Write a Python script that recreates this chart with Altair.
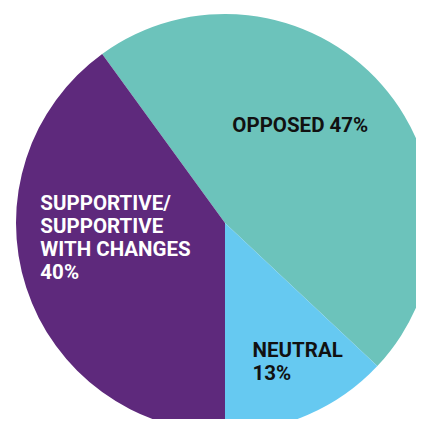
import math
import altair as alt
import pandas as pd

categories = ["Opposed", "Neutral", "Supportive/supportive with changes"]
shares = [47, 13, 40]
labels = ["OPPOSED 47%", "NEUTRAL\n13%", "SUPPORTIVE/\nSUPPORTIVE\nWITH CHANGES\n40%"]
colors = ["#6cc3bb", "#66c9f1", "#5e297c"]
order = [1, 2, 3]

df = pd.DataFrame({"category": categories, "share": shares, "label": labels, "order": order})

start = -36 / 180 * math.pi
theta_scale = alt.Scale(domain=[0, sum(shares)], range=[start, start + 2 * math.pi])

CX, CY = 217, 215
FONT = "Roboto"

pie = alt.Chart(df).mark_arc(radius=209).encode(
    theta=alt.Theta("share:Q", stack=True, scale=theta_scale),
    order=alt.Order("order:Q"),
    color=alt.Color("category:N", scale=alt.Scale(domain=categories, range=colors), legend=None),
    x=alt.value(CX),
    y=alt.value(CY),
)

text_base = alt.Chart(df).transform_window(
    cum="sum(share)", sort=[alt.SortField("order")]
).transform_calculate(mid="datum.cum - datum.share / 2")


def label_layer(cat, radius, dx, dy, align, color):
    return text_base.transform_filter(alt.datum.category == cat).mark_text(
        radius=radius, dx=dx, dy=dy, align=align, baseline="top",
        lineBreak="\n", font=FONT, fontSize=20.5, fontWeight="bold",
        lineHeight=23, color=color,
    ).encode(
        theta=alt.Theta("mid:Q", scale=theta_scale),
        text="label:N",
        x=alt.value(CX),
        y=alt.value(CY),
    )


t1 = label_layer("Opposed", 123, -17, -26, "center", "#111111")
t2 = label_layer("Neutral", 150, -32, -20, "left", "#111111")
t3 = label_layer("Supportive/supportive with changes", 130, -61, -69, "left", "#ffffff")

chart = alt.layer(pie, t1, t2, t3).properties(
    width=408, height=411,
    autosize=alt.AutoSizeParams(type="none"),
    padding=0,
).configure_view(stroke=None)

chart.save("out.html", embed_options={"renderer": "svg", "actions": False})
